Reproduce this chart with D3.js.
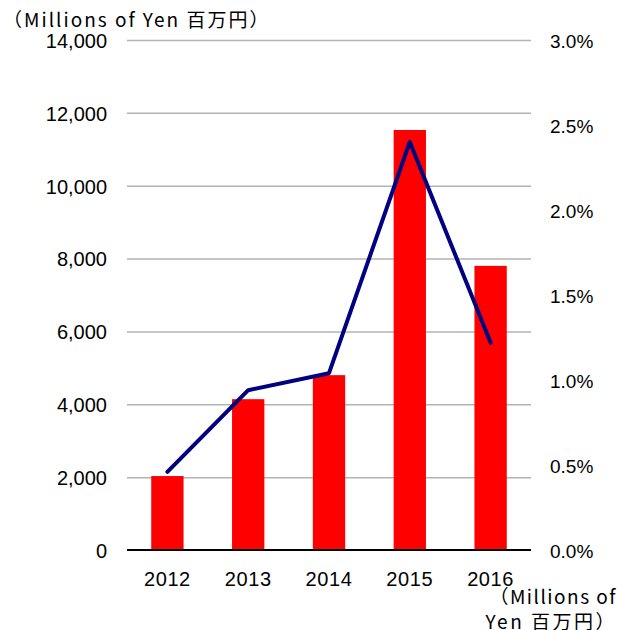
<!DOCTYPE html>
<html>
<head>
<meta charset="utf-8">
<script src="https://cdn.jsdelivr.net/npm/d3@7"></script>
<style>
  body { margin: 0; background: #fff; }
  text { font-family: "Liberation Sans", "Noto Sans CJK JP", sans-serif; fill: #000; }
  .cjk { font-family: "Noto Sans CJK JP", "Liberation Sans", sans-serif; }
</style>
</head>
<body>
<div id="chart"></div>
<script>
var years = ["2012", "2013", "2014", "2015", "2016"];
var amounts = [2030, 4140, 4800, 11530, 7800];      // millions of yen
var ratios = [0.46, 0.94, 1.04, 2.40, 1.22];        // percent
var leftTicks = [0, 2000, 4000, 6000, 8000, 10000, 12000, 14000];
var rightTicks = [0, 0.5, 1.0, 1.5, 2.0, 2.5, 3.0];

var width = 617, height = 630;
var plotLeft = 127, plotRight = 531, plotTop = 40, plotBottom = 550;

var svg = d3.select("#chart").append("svg")
    .attr("width", width)
    .attr("height", height);

var xScale = d3.scaleBand()
    .domain(years)
    .range([plotLeft, plotRight])
    .paddingInner(0.6)
    .paddingOuter(0.3);

var yScale = d3.scaleLinear()
    .domain([0, 14000])
    .range([plotBottom, plotTop]);

var yScale2 = d3.scaleLinear()
    .domain([0, 3])
    .range([plotBottom, plotTop]);

// gridlines
svg.append("g")
    .attr("transform", "translate(" + plotLeft + ",0)")
    .call(d3.axisLeft(yScale).tickValues(leftTicks.slice(1)).tickSize(-(plotRight - plotLeft)).tickFormat(""))
    .call(function(g) { g.select(".domain").remove(); })
    .selectAll("line")
    .attr("stroke", "#b3b3b3")
    .attr("stroke-width", 1.5);

// bars
svg.selectAll("rect.bar")
    .data(amounts)
    .enter()
    .append("rect")
    .attr("class", "bar")
    .attr("x", function(d, i) { return xScale(years[i]); })
    .attr("y", function(d) { return yScale(d); })
    .attr("width", xScale.bandwidth())
    .attr("height", function(d) { return plotBottom - yScale(d); })
    .attr("fill", "#ff0000");

// baseline
svg.append("line")
    .attr("x1", plotLeft).attr("x2", plotRight)
    .attr("y1", yScale(0)).attr("y2", yScale(0))
    .attr("stroke", "#000")
    .attr("stroke-width", 2);

// ratio line
var valueLine = d3.line()
    .x(function(d, i) { return xScale(years[i]) + xScale.bandwidth() / 2; })
    .y(function(d) { return yScale2(d); });

svg.append("path")
    .attr("d", valueLine(ratios))
    .attr("fill", "none")
    .attr("stroke", "#000080")
    .attr("stroke-width", 4)
    .attr("stroke-linecap", "round")
    .attr("stroke-linejoin", "round");

// left axis labels
svg.append("g")
    .attr("transform", "translate(" + (plotLeft - 20) + ",0)")
    .call(d3.axisLeft(yScale).tickValues(leftTicks).tickSize(0).tickPadding(0).tickFormat(d3.format(",")))
    .call(function(g) { g.select(".domain").remove(); })
    .selectAll("text")
    .style("font-size", "20px")
    .attr("dy", "0.37em");

// right axis labels
svg.append("g")
    .attr("transform", "translate(" + (plotRight + 19) + ",0)")
    .call(d3.axisRight(yScale2).tickValues(rightTicks).tickSize(0).tickPadding(0)
        .tickFormat(function(d) { return d3.format(".1f")(d) + "%"; }))
    .call(function(g) { g.select(".domain").remove(); })
    .selectAll("text")
    .style("font-size", "19px")
    .attr("dy", "0.4em");

// bottom axis labels
svg.append("g")
    .attr("transform", "translate(0," + (plotBottom + 21) + ")")
    .call(d3.axisBottom(xScale).tickSize(0).tickPadding(0))
    .call(function(g) { g.select(".domain").remove(); })
    .selectAll("text")
    .style("font-size", "20px")
    .style("letter-spacing", "0.6px")
    .attr("dy", "0.75em");

// unit titles
svg.append("text")
    .attr("class", "cjk")
    .attr("x", 3)
    .attr("y", 27)
    .style("font-size", "19px")
    .style("letter-spacing", "2px")
    .text("（Millions of Yen 百万円）");

svg.append("text")
    .attr("class", "cjk")
    .attr("x", 617)
    .attr("y", 604)
    .attr("text-anchor", "end")
    .style("font-size", "19px")
    .style("letter-spacing", "1.5px")
    .text("（Millions of");

svg.append("text")
    .attr("class", "cjk")
    .attr("x", 617)
    .attr("y", 629)
    .attr("text-anchor", "end")
    .style("font-size", "19px")
    .style("letter-spacing", "2.5px")
    .text("Yen 百万円）");
</script>
</body>
</html>
